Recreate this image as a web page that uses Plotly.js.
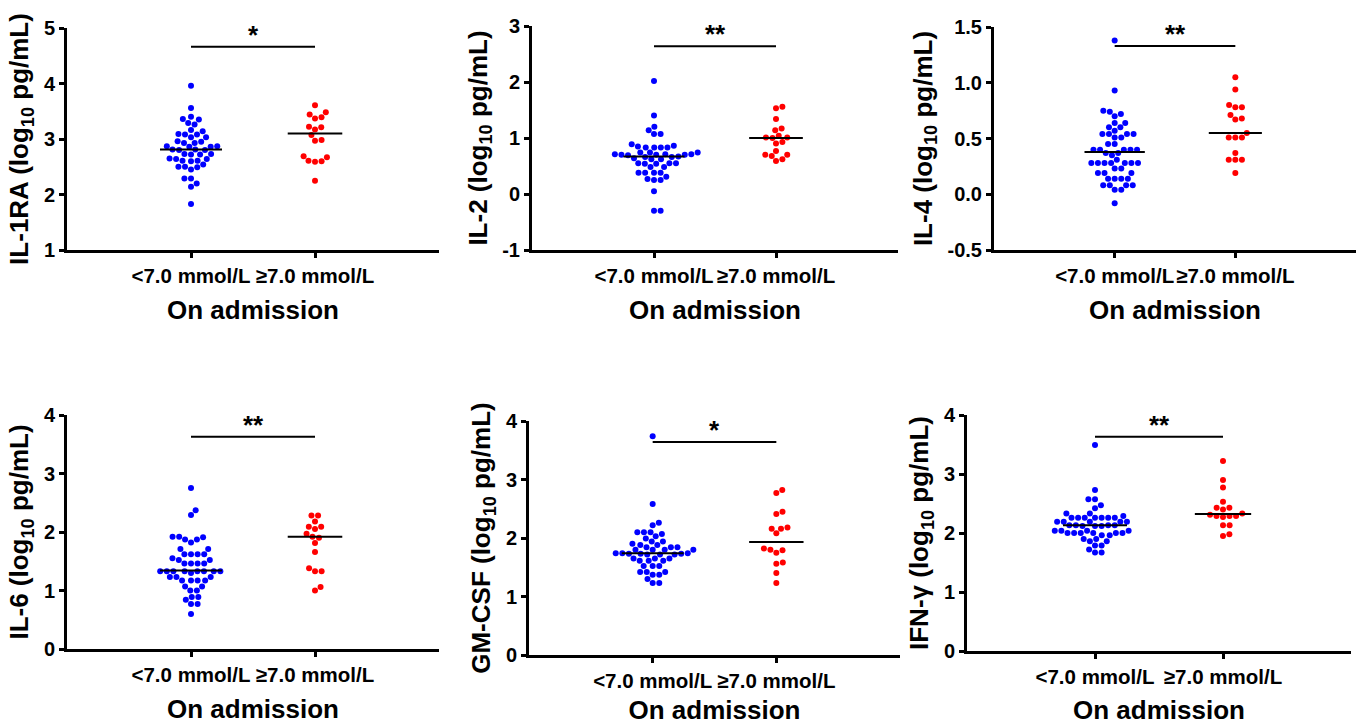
<!DOCTYPE html>
<html>
<head>
<meta charset="utf-8">
<script src="https://cdn.plot.ly/plotly-3.0.1.min.js"></script>
<style>
  html, body { margin: 0; padding: 0; background: #ffffff; }
  #chart { width: 1361px; height: 725px; }
</style>
</head>
<body>
<div id="chart"></div>
<script>
// ---------------- Data ----------------
const categories = ['<7.0 mmol/L', '\u22657.0 mmol/L'];
const xAxisTitle = 'On admission';
const markerNames = ['IL-1RA', 'IL-2', 'IL-4', 'IL-6', 'GM-CSF', 'IFN-\u03b3'];
const significance = ['*', '**', '**', '**', '*', '**'];

// log10 pg/mL values, group "<7.0 mmol/L" (blue) and "≥7.0 mmol/L" (red)
const il1raLow = [3.96, 3.56, 3.40, 3.36, 3.35, 3.29, 3.26, 3.16, 3.14, 3.09, 3.08, 3.08, 3.03, 3.03, 2.96, 2.95, 2.93, 2.93, 2.87, 2.87, 2.86, 2.86, 2.81, 2.81, 2.80, 2.80, 2.73, 2.73, 2.72, 2.72, 2.65, 2.64, 2.64, 2.61, 2.61, 2.60, 2.54, 2.50, 2.50, 2.49, 2.45, 2.29, 2.29, 2.20, 2.14, 1.83];
const il1raHigh = [3.61, 3.48, 3.44, 3.39, 3.37, 3.22, 3.21, 3.17, 3.07, 2.98, 2.97, 2.69, 2.67, 2.61, 2.60, 2.59, 2.25];

const il2Low = [2.02, 1.40, 1.20, 1.14, 1.07, 1.07, 0.89, 0.86, 0.85, 0.83, 0.83, 0.83, 0.83, 0.74, 0.74, 0.74, 0.71, 0.71, 0.71, 0.70, 0.70, 0.70, 0.69, 0.67, 0.66, 0.66, 0.64, 0.62, 0.62, 0.55, 0.55, 0.55, 0.54, 0.54, 0.48, 0.48, 0.38, 0.38, 0.38, 0.38, 0.31, 0.27, 0.25, 0.25, 0.05, -0.30, -0.30];
const il2High = [1.56, 1.53, 1.34, 1.17, 1.14, 1.04, 1.01, 1.01, 1.00, 0.93, 0.90, 0.77, 0.70, 0.70, 0.68, 0.62, 0.59];

const il4Low = [1.38, 0.93, 0.75, 0.74, 0.72, 0.70, 0.64, 0.64, 0.60, 0.60, 0.57, 0.54, 0.54, 0.54, 0.54, 0.51, 0.51, 0.45, 0.45, 0.40, 0.40, 0.40, 0.40, 0.40, 0.37, 0.37, 0.35, 0.31, 0.28, 0.28, 0.28, 0.28, 0.28, 0.28, 0.28, 0.23, 0.23, 0.19, 0.19, 0.19, 0.14, 0.14, 0.14, 0.14, 0.08, 0.08, 0.08, 0.08, 0.04, 0.04, -0.08];
const il4High = [1.05, 0.94, 0.80, 0.78, 0.78, 0.71, 0.68, 0.67, 0.55, 0.51, 0.51, 0.51, 0.37, 0.31, 0.31, 0.31, 0.19];

const il6Low = [2.75, 2.37, 2.29, 1.92, 1.92, 1.91, 1.87, 1.87, 1.82, 1.71, 1.71, 1.62, 1.62, 1.62, 1.62, 1.55, 1.52, 1.52, 1.46, 1.46, 1.46, 1.46, 1.33, 1.33, 1.33, 1.33, 1.33, 1.33, 1.33, 1.33, 1.30, 1.23, 1.23, 1.23, 1.17, 1.17, 1.17, 1.17, 1.07, 1.07, 1.00, 1.00, 0.89, 0.89, 0.84, 0.77, 0.77, 0.60];
const il6High = [2.28, 2.28, 2.18, 2.09, 2.09, 2.05, 1.97, 1.92, 1.90, 1.81, 1.66, 1.38, 1.33, 1.33, 1.06, 1.00];

const gmcsfLow = [3.74, 2.58, 2.26, 2.22, 2.10, 2.10, 2.10, 2.07, 2.03, 1.99, 1.94, 1.94, 1.90, 1.88, 1.88, 1.84, 1.84, 1.84, 1.80, 1.80, 1.80, 1.80, 1.74, 1.74, 1.74, 1.73, 1.73, 1.73, 1.72, 1.72, 1.72, 1.65, 1.65, 1.65, 1.61, 1.61, 1.61, 1.52, 1.52, 1.52, 1.42, 1.42, 1.42, 1.37, 1.37, 1.30, 1.23, 1.23];
const gmcsfHigh = [2.82, 2.77, 2.45, 2.41, 2.18, 2.16, 2.16, 2.08, 1.82, 1.80, 1.79, 1.75, 1.58, 1.56, 1.40, 1.23];

const ifngLow = [3.49, 2.73, 2.57, 2.57, 2.47, 2.42, 2.33, 2.33, 2.29, 2.26, 2.26, 2.26, 2.26, 2.26, 2.26, 2.26, 2.19, 2.19, 2.19, 2.19, 2.19, 2.13, 2.13, 2.13, 2.13, 2.12, 2.12, 2.12, 2.04, 2.04, 2.04, 2.04, 2.00, 2.00, 2.00, 2.00, 2.00, 2.00, 1.96, 1.96, 1.90, 1.90, 1.86, 1.86, 1.79, 1.79, 1.72, 1.67, 1.67];
const ifngHigh = [3.22, 2.90, 2.77, 2.53, 2.43, 2.43, 2.40, 2.33, 2.31, 2.29, 2.29, 2.29, 2.27, 2.13, 2.13, 1.98, 1.95];

// medians (horizontal lines)
const mediansLow = [2.81, 0.67, 0.38, 1.34, 1.74, 2.13];
const mediansHigh = [3.10, 1.00, 0.55, 1.92, 1.93, 2.32];
// significance bar heights
const barHeights = [4.66, 2.64, 1.33, 3.63, 3.64, 3.63];

// y tick values and labels per panel
const yTicks1 = [1, 2, 3, 4, 5];
const yTicks2 = [-1, 0, 1, 2, 3];
const yTicks3 = [-0.5, 0.0, 0.5, 1.0, 1.5];
const yTicks4 = [0, 1, 2, 3, 4];
const yTicks5 = [0, 1, 2, 3, 4];
const yTicks6 = [0, 1, 2, 3, 4];
const yLabels1 = ['1', '2', '3', '4', '5'];
const yLabels2 = ['-1', '0', '1', '2', '3'];
const yLabels3 = ['-0.5', '0.0', '0.5', '1.0', '1.5'];
const yLabels4 = ['0', '1', '2', '3', '4'];
const yLabels5 = ['0', '1', '2', '3', '4'];
const yLabels6 = ['0', '1', '2', '3', '4'];

// ---------------- Layout / style ----------------
const W = 1361, H = 725;
const FONT = 'Liberation Sans, Arial, Helvetica, sans-serif';
const BLUE = '#0000ff', RED = '#ff0000';
const DOT = 6;      // marker diameter px
const GAP = 6.6;    // min centre distance px for swarm

const lows = [il1raLow, il2Low, il4Low, il6Low, gmcsfLow, ifngLow];
const highs = [il1raHigh, il2High, il4High, il6High, gmcsfHigh, ifngHigh];
const ticksList = [yTicks1, yTicks2, yTicks3, yTicks4, yTicks5, yTicks6];
const labelsList = [yLabels1, yLabels2, yLabels3, yLabels4, yLabels5, yLabels6];

// plot boxes in page pixels: [left, right, top, bottom]
const boxes = [
  [67, 439, 28, 250],
  [532, 898, 26, 250],
  [994, 1356, 27, 250],
  [67, 439, 415, 649],
  [529, 900, 421, 655],
  [967, 1351, 415, 651]
];
const xRange = [-1, 2];

// simple beeswarm: returns pixel x offsets for values given px/unit in y
function swarm(values, pxPerY) {
  const order = values.map((v, i) => i).sort((a, b) => values[a] - values[b]);
  const placed = [];
  const out = new Array(values.length).fill(0);
  order.forEach(idx => {
    const y = values[idx] * pxPerY;
    const cands = [0];
    placed.forEach(p => {
      const dy = Math.abs(p.y - y);
      if (dy < GAP) {
        const dx = Math.sqrt(GAP * GAP - dy * dy);
        cands.push(p.x + dx, p.x - dx);
      }
    });
    const ok = cands.filter(c => placed.every(p => {
      const dx = p.x - c, dy = p.y - y;
      return dx * dx + dy * dy >= GAP * GAP - 1e-6;
    }));
    ok.sort((a, b) => Math.abs(a) - Math.abs(b) || b - a);
    const x = ok[0];
    placed.push({ x: x, y: y });
    out[idx] = x;
  });
  return out;
}

const traces = [];
const layout = {
  width: W, height: H,
  margin: { l: 0, r: 0, t: 0, b: 0 },
  paper_bgcolor: '#ffffff', plot_bgcolor: '#ffffff',
  showlegend: false,
  font: { family: FONT, color: '#000000', size: 20 },
  shapes: [], annotations: []
};

markerNames.forEach((name, i) => {
  const k = i === 0 ? '' : String(i + 1);
  const xa = 'x' + k, ya = 'y' + k;
  const b = boxes[i];
  const ticks = ticksList[i];
  const yr = [ticks[0], ticks[ticks.length - 1]];
  const pxPerY = (b[3] - b[2]) / (yr[1] - yr[0]);
  const pxPerX = (b[1] - b[0]) / (xRange[1] - xRange[0]);

  [[lows[i], 0, BLUE, mediansLow[i], 0.25], [highs[i], 1, RED, mediansHigh[i], 0.22]].forEach(g => {
    const vals = g[0];
    const offs = swarm(vals, pxPerY);
    traces.push({
      type: 'scatter', mode: 'markers', xaxis: xa, yaxis: ya,
      name: name + ' ' + categories[g[1]],
      x: offs.map(o => g[1] + o / pxPerX), y: vals,
      marker: { color: g[2], size: DOT, line: { width: 0 } },
      cliponaxis: false, hoverinfo: 'y'
    });
    traces.push({
      type: 'scatter', mode: 'lines', xaxis: xa, yaxis: ya,
      x: [g[1] - g[4], g[1] + g[4]], y: [g[3], g[3]],
      line: { color: '#000000', width: 2 }, hoverinfo: 'skip'
    });
  });

  // significance bar
  traces.push({
    type: 'scatter', mode: 'lines', xaxis: xa, yaxis: ya,
    x: [0, 1], y: [barHeights[i], barHeights[i]],
    line: { color: '#000000', width: 2 }, hoverinfo: 'skip', cliponaxis: false
  });
  layout.annotations.push({
    xref: xa, yref: ya, x: 0.5, y: barHeights[i], yanchor: 'bottom', yshift: -5,
    text: significance[i], showarrow: false,
    font: { family: FONT, size: 26, weight: 'bold', color: '#000000' }
  });

  layout['xaxis' + k] = {
    domain: [b[0] / W, b[1] / W], anchor: ya, range: xRange,
    tickvals: [0, 1], ticktext: categories, tickangle: 0,
    showline: true, linecolor: '#000000', linewidth: 3,
    ticks: 'outside', ticklen: 5, tickwidth: 3, tickcolor: '#000000',
    showgrid: false, zeroline: false, fixedrange: true,
    tickfont: { family: FONT, size: 20.5, weight: 'bold', color: '#000000' },
    title: { text: xAxisTitle, standoff: 16, font: { family: FONT, size: 26, weight: 'bold', color: '#000000' } }
  };
  layout['yaxis' + k] = {
    domain: [1 - b[3] / H, 1 - b[2] / H], anchor: xa, range: yr,
    tickvals: ticks, ticktext: labelsList[i],
    showline: true, linecolor: '#000000', linewidth: 3,
    ticks: 'outside', ticklen: 5, tickwidth: 3, tickcolor: '#000000',
    showgrid: false, zeroline: false, fixedrange: true,
    tickfont: { family: FONT, size: 20, weight: 'bold', color: '#000000' },
    title: { text: name + ' (log<sub>10</sub> pg/mL)', standoff: 8, font: { family: FONT, size: 26, weight: 'bold', color: '#000000' } }
  };
});

Plotly.newPlot('chart', traces, layout, { displayModeBar: false, staticPlot: true });
</script>
</body>
</html>
